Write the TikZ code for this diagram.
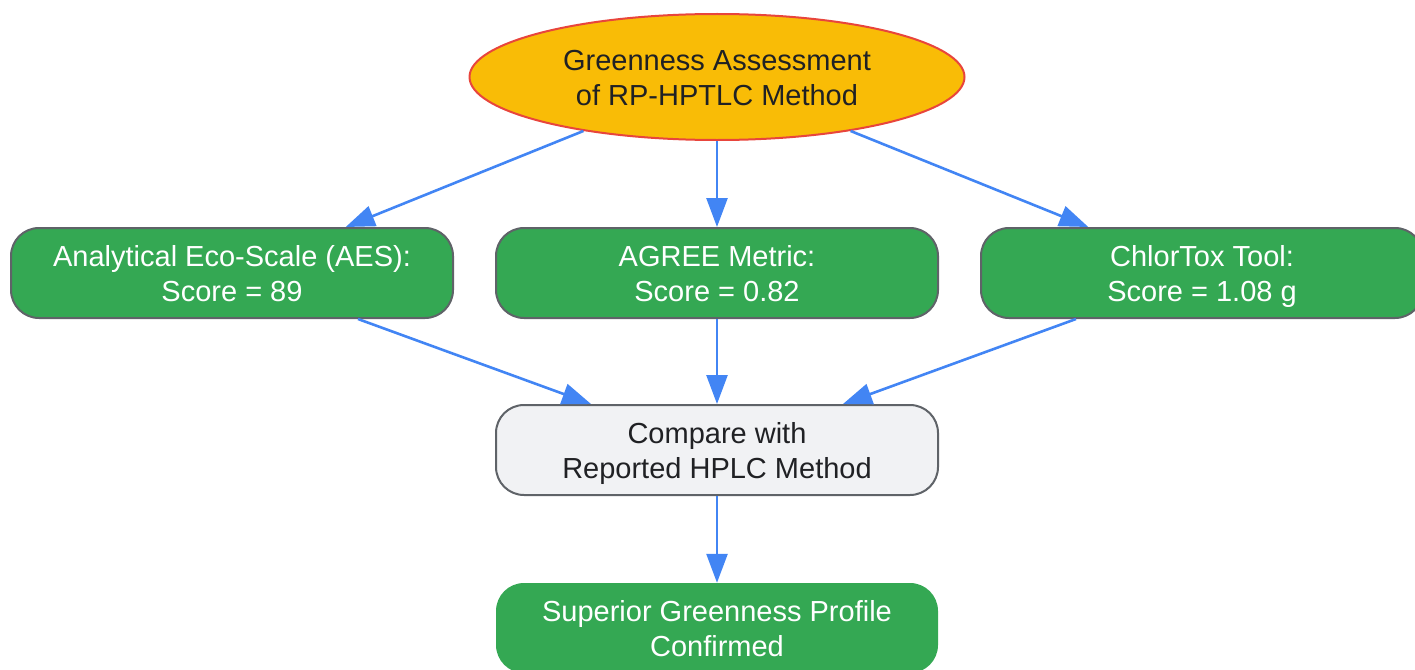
\documentclass[tikz,border=0pt]{standalone}
\usepackage{fontspec}
\setmainfont{Liberation Sans}
\usetikzlibrary{arrows.meta,shapes.geometric}
\definecolor{gold}{HTML}{F9BC06}
\definecolor{redline}{HTML}{E8453C}
\definecolor{ggreen}{HTML}{34A853}
\definecolor{gborder}{HTML}{5F6368}
\definecolor{glight}{HTML}{F1F2F4}
\definecolor{gtext}{HTML}{202124}
\definecolor{gblue}{HTML}{4285F4}
\newcommand\mystrut{\rule[-6.5pt]{0pt}{35pt}}
\begin{document}
\begin{tikzpicture}[x=1pt,y=-1pt,
  every node/.style={font=\fontsize{29}{35}\selectfont, align=center, inner sep=0pt},
  topnode/.style={ellipse, fill=gold, draw=redline, line width=2pt, minimum width=495pt, minimum height=126pt, text=gtext},
  greenbox/.style={rectangle, rounded corners=28pt, fill=ggreen, draw=gborder, line width=2pt, minimum width=442pt, minimum height=90pt, text=white},
  greybox/.style={rectangle, rounded corners=28pt, fill=glight, draw=gborder, line width=2pt, minimum width=442pt, minimum height=90pt, text=gtext},
  finalbox/.style={rectangle, rounded corners=28pt, fill=ggreen, minimum width=442pt, minimum height=90pt, text=white},
  conn/.style={draw=gblue, line width=2.6pt, -{Triangle[length=29pt,width=21pt]}}
]
\useasboundingbox (0,0) rectangle (1415,669);
\node[topnode] (top) at (717,77) {Greenness Assessment\mystrut\\of RP-HPTLC Method\mystrut};
\node[greenbox] (aes) at (232,273) {Analytical Eco-Scale (AES):\mystrut\\Score = 89\mystrut};
\node[greenbox] (agree) at (717,273) {AGREE Metric:\mystrut\\Score = 0.82\mystrut};
\node[greenbox] (chlor) at (1202,273) {ChlorTox Tool:\mystrut\\Score = 1.08 g\mystrut};
\node[greybox] (cmp) at (717,450) {Compare with\mystrut\\Reported HPLC Method\mystrut};
\node[finalbox] (fin) at (717,628) {Superior Greenness Profile\mystrut\\Confirmed\mystrut};
\draw[conn] (top) -- (aes);
\draw[conn] (top) -- (agree);
\draw[conn] (top) -- (chlor);
\draw[conn] (aes) -- (cmp);
\draw[conn] (agree) -- (cmp);
\draw[conn] (chlor) -- (cmp);
\draw[conn] (cmp) -- (fin);
\end{tikzpicture}
\end{document}
